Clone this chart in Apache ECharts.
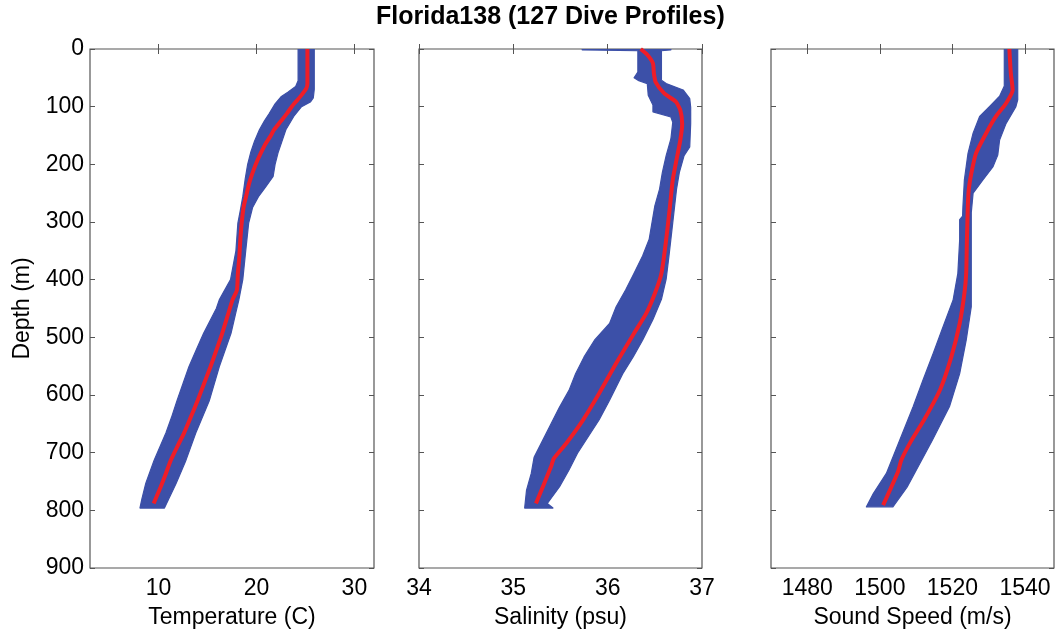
<!DOCTYPE html>
<html>
<head>
<meta charset="utf-8">
<script src="https://cdn.jsdelivr.net/npm/echarts@6/dist/echarts.min.js"></script>
<style>
  html, body { margin: 0; padding: 0; background: #fff; }
  #chart { width: 1059px; height: 636px; }
</style>
</head>
<body>
<div id="chart"></div>
<script>
// Florida138 glider: 127 dive profiles, spread of all dives (band) and mean profile (red).

// ---- Temperature (C) ----
const tempMeanDepth = [0, 30, 60, 68, 80, 90, 100, 112, 125, 140, 152, 165, 180, 193, 210, 233, 255, 273, 300, 331, 360, 389, 418, 435, 460, 493, 520, 551, 580, 609, 640, 666, 690, 713, 736, 760, 788];
const tempMean = [25.2, 25.2, 25.2, 25.1, 24.6, 24.1, 23.6, 23.1, 22.5, 21.8, 21.4, 20.9, 20.45, 20.1, 19.7, 19.25, 18.95, 18.7, 18.5, 18.35, 18.25, 18.1, 18.0, 17.55, 17.1, 16.5, 15.95, 15.3, 14.65, 14.0, 13.25, 12.6, 11.9, 11.25, 10.75, 10.2, 9.5];
const tempLoDepth = [0, 55, 65, 75, 83, 95, 112, 125, 140, 160, 180, 200, 225, 256, 280, 302, 350, 400, 435, 450, 493, 520, 551, 580, 609, 640, 666, 713, 753, 780, 796];
const tempLo = [24.25, 24.25, 24.0, 23.2, 22.5, 21.9, 21.3, 20.8, 20.3, 19.8, 19.4, 19.1, 18.85, 18.6, 18.35, 18.1, 17.9, 17.35, 16.2, 15.9, 14.6, 13.9, 13.1, 12.5, 11.9, 11.3, 10.75, 9.55, 8.7, 8.3, 8.1];
const tempHiDepth = [0, 70, 85, 92, 100, 117, 140, 160, 180, 200, 221, 240, 256, 275, 302, 350, 400, 435, 460, 493, 551, 609, 666, 713, 753, 796];
const tempHi = [25.9, 25.9, 25.8, 25.5, 24.6, 23.8, 23.0, 22.6, 22.2, 21.9, 21.7, 20.9, 20.2, 19.6, 19.2, 18.9, 18.6, 18.2, 17.85, 17.4, 16.2, 15.2, 13.8, 12.8, 11.8, 10.6];

// ---- Salinity (psu) ----
const salMeanDepth = [0, 10, 25, 42, 58, 77, 91, 106, 130, 158, 192, 227, 273, 331, 389, 424, 458, 493, 545, 597, 643, 684, 710, 724, 788];
const salMean = [36.35, 36.42, 36.48, 36.49, 36.51, 36.60, 36.72, 36.77, 36.79, 36.77, 36.73, 36.69, 36.66, 36.62, 36.57, 36.50, 36.41, 36.28, 36.09, 35.91, 35.74, 35.56, 35.43, 35.40, 35.24];
const salLoDepth = [0, 1.5, 3, 40, 50, 55, 60, 80, 97, 109, 118, 127, 156, 185, 214, 243, 272, 330, 359, 389, 418, 447, 476, 505, 534, 563, 592, 621, 650, 679, 708, 736, 765, 796];
const salLo = [35.73, 35.73, 36.32, 36.32, 36.28, 36.33, 36.42, 36.43, 36.48, 36.48, 36.67, 36.69, 36.67, 36.62, 36.58, 36.55, 36.50, 36.44, 36.37, 36.28, 36.19, 36.09, 36.02, 35.86, 35.75, 35.66, 35.59, 35.49, 35.40, 35.31, 35.22, 35.19, 35.14, 35.12];
const salHiDepth = [0, 1.5, 3, 54, 60, 71, 86, 101, 129, 170, 185, 214, 243, 301, 359, 399, 434, 469, 505, 534, 563, 609, 643, 701, 730, 759, 788, 796];
const salHi = [36.67, 36.67, 36.57, 36.57, 36.62, 36.80, 36.87, 36.88, 36.88, 36.87, 36.81, 36.76, 36.73, 36.69, 36.65, 36.62, 36.57, 36.48, 36.37, 36.27, 36.16, 36.02, 35.91, 35.68, 35.59, 35.49, 35.36, 35.42];

// ---- Sound speed (m/s) ----
const ssMeanDepth = [0, 42, 71, 94, 117, 146, 181, 216, 244, 273, 331, 389, 424, 476, 534, 591, 643, 680, 713, 733, 791];
const ssMean = [1535.7, 1536.1, 1536.6, 1534.8, 1532.0, 1529.3, 1526.5, 1525.2, 1524.5, 1524.25, 1524.0, 1523.8, 1523.3, 1522.0, 1519.7, 1516.6, 1512.2, 1508.6, 1505.9, 1505.0, 1500.9];
const ssLoDepth = [0, 64, 82, 100, 117, 146, 181, 227, 273, 290, 296, 331, 389, 435, 482, 528, 574, 620, 678, 736, 771, 794];
const ssLo = [1534.3, 1534.3, 1533.0, 1530.2, 1527.5, 1525.7, 1524.3, 1523.3, 1522.9, 1522.8, 1522.0, 1522.0, 1521.5, 1520.2, 1517.4, 1514.7, 1511.9, 1509.2, 1505.5, 1501.8, 1498.2, 1496.3];
const ssHiDepth = [0, 88, 100, 129, 158, 184, 204, 227, 250, 284, 331, 389, 447, 505, 563, 620, 678, 725, 760, 794];
const ssHi = [1538.0, 1538.0, 1537.5, 1534.8, 1533.0, 1532.5, 1531.2, 1528.4, 1525.7, 1525.2, 1525.2, 1525.2, 1525.2, 1523.8, 1522.0, 1519.2, 1514.5, 1510.5, 1507.5, 1503.6];

// ---- Axes ----
const depthRange = [0, 900];
const tempRange = [3, 32];
const tempTicks = [10, 20, 30];
const salRange = [34, 37];
const salTicks = [34, 35, 36, 37];
const ssRange = [1470, 1548];
const ssTicks = [1480, 1500, 1520, 1540];

const titleText = 'Florida138 (127 Dive Profiles)';
const xNames = ['Temperature (C)', 'Salinity (psu)', 'Sound Speed (m/s)'];
const yName = 'Depth (m)';

const BLUE = '#3c50a8';
const RED = '#ef1d27';
const FRAME = '#555555';
const FONT = 'Liberation Sans';

const panels = [
  { range: tempRange, ticks: tempTicks, mean: [tempMean, tempMeanDepth], lo: [tempLo, tempLoDepth], hi: [tempHi, tempHiDepth] },
  { range: salRange, ticks: salTicks, mean: [salMean, salMeanDepth], lo: [salLo, salLoDepth], hi: [salHi, salHiDepth] },
  { range: ssRange, ticks: ssTicks, mean: [ssMean, ssMeanDepth], lo: [ssLo, ssLoDepth], hi: [ssHi, ssHiDepth] }
];

const gridBoxes = [
  { left: 90, top: 49, width: 284, height: 519 },
  { left: 419, top: 49, width: 283, height: 519 },
  { left: 771, top: 49, width: 283, height: 519 }
];

const pairs = (xs, ds) => xs.map((v, i) => [v, ds[i]]);
const plain = v => String(v);

const grid = gridBoxes.map(b => Object.assign({
  show: true, borderColor: FRAME, borderWidth: 1.2, backgroundColor: 'transparent', containLabel: false
}, b));

const xAxis = [];
const yAxis = [];
panels.forEach((p, k) => {
  const tickStyle = { show: true, inside: true, length: 5, lineStyle: { color: FRAME, width: 1 }, customValues: p.ticks };
  xAxis.push({
    type: 'value', gridIndex: k, position: 'bottom', min: p.range[0], max: p.range[1],
    axisLine: { show: false }, splitLine: { show: false },
    axisTick: tickStyle,
    axisLabel: { customValues: p.ticks, formatter: plain, color: '#000', fontSize: 23, fontFamily: FONT, margin: 9 },
    name: xNames[k], nameLocation: 'middle', nameGap: 38,
    nameTextStyle: { color: '#000', fontSize: 23, fontFamily: FONT }
  });
  xAxis.push({
    type: 'value', gridIndex: k, position: 'top', min: p.range[0], max: p.range[1],
    axisLine: { show: false }, splitLine: { show: false },
    axisTick: tickStyle, axisLabel: { show: false }
  });
  const yTick = { show: true, inside: true, length: 5, lineStyle: { color: FRAME, width: 1 } };
  yAxis.push({
    type: 'value', gridIndex: k, position: 'left', inverse: true,
    min: depthRange[0], max: depthRange[1], interval: 100,
    axisLine: { show: false }, splitLine: { show: false }, axisTick: yTick,
    axisLabel: { show: k === 0, formatter: plain, color: '#000', fontSize: 23, fontFamily: FONT, margin: 6 },
    name: k === 0 ? yName : '', nameLocation: 'middle', nameGap: 56,
    nameTextStyle: { color: '#000', fontSize: 23, fontFamily: FONT }
  });
  yAxis.push({
    type: 'value', gridIndex: k, position: 'right', inverse: true,
    min: depthRange[0], max: depthRange[1], interval: 100,
    axisLine: { show: false }, splitLine: { show: false }, axisTick: yTick,
    axisLabel: { show: false }
  });
});

const series = [];
panels.forEach((p, k) => {
  const lo = pairs(p.lo[0], p.lo[1]);
  const hi = pairs(p.hi[0], p.hi[1]);
  // spread of all dive profiles: polygon between the low and high envelopes
  series.push({
    type: 'custom', xAxisIndex: 2 * k, yAxisIndex: 2 * k, clip: true, silent: true,
    data: [lo[0]],
    renderItem: function (params, api) {
      const pts = lo.map(d => api.coord(d)).concat(hi.slice().reverse().map(d => api.coord(d)));
      return {
        type: 'polygon', shape: { points: pts },
        style: { fill: BLUE, stroke: BLUE, lineWidth: 1.2, lineJoin: 'round' }
      };
    }
  });
  // mean profile
  series.push({
    type: 'line', xAxisIndex: 2 * k, yAxisIndex: 2 * k, silent: true,
    data: pairs(p.mean[0], p.mean[1]), showSymbol: false, smooth: 0.2,
    lineStyle: { color: RED, width: 4 }, z: 5
  });
});

const chart = echarts.init(document.getElementById('chart'), null, { renderer: 'canvas' });
chart.setOption({
  animation: false,
  backgroundColor: '#ffffff',
  title: {
    text: titleText, left: 376, top: 5, padding: 0,
    textStyle: { color: '#000', fontSize: 25, fontWeight: 'bold', fontFamily: FONT }
  },
  grid, xAxis, yAxis, series
});
</script>
</body>
</html>
